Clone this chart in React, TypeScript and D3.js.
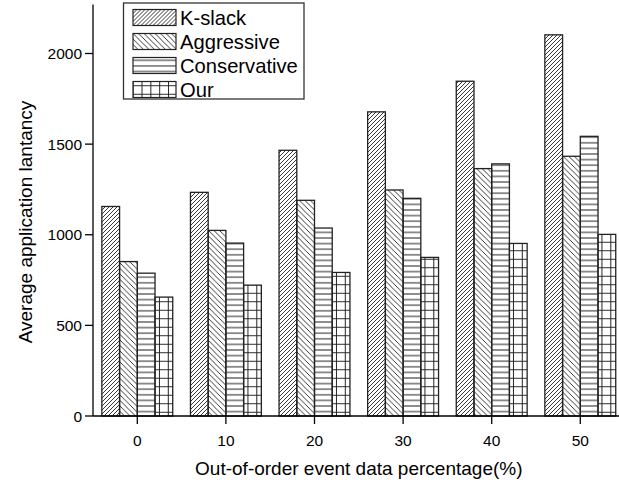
import React from "react"
import * as d3 from "d3"

// categories (x) and series
const categories = [0, 10, 20, 30, 40, 50]
const seriesNames = ["K-slack", "Aggressive", "Conservative", "Our"]
const kSlack = [1156, 1234, 1466, 1678, 1847, 2103]
const aggressive = [852, 1024, 1190, 1247, 1365, 1433]
const conservative = [788, 954, 1037, 1201, 1391, 1543]
const our = [656, 722, 792, 875, 952, 1002]
const yTicks = [0, 500, 1000, 1500, 2000]

const seriesValues = [kSlack, aggressive, conservative, our]
const patternIds = ["p-kslack", "p-aggr", "p-cons", "p-our"]

const W = 619
const H = 484
const FONT = "'Liberation Sans', Arial, sans-serif"

const App = () => {
  const x = d3.scaleLinear().domain([-5, 55]).range([93, 624.6])
  const y = d3.scaleLinear().domain([0, 2000]).range([416, 53.5])
  const barW = x(2) - x(0)
  const offsets = [-4, -2, 0, 2]

  return (
    <svg
      width={W}
      height={H}
      style={{ position: "absolute", left: 0, top: 0, background: "#fff" }}
      fontFamily={FONT}
    >
      <defs>
        <pattern id="p-kslack" patternUnits="userSpaceOnUse" width={4} height={4}>
          <path d="M-1,1 L1,-1 M0,4 L4,0 M3,5 L5,3" stroke="#222" strokeWidth={0.9} />
        </pattern>
        <pattern id="p-aggr" patternUnits="userSpaceOnUse" width={5.5} height={5.5}>
          <path d="M-1,-1 L6.5,6.5 M-1,4.5 L1,6.5 M4.5,-1 L6.5,1" stroke="#222" strokeWidth={0.9} />
        </pattern>
        <pattern id="p-cons" patternUnits="userSpaceOnUse" width={8} height={5.6}>
          <path d="M0,2.8 L8,2.8" stroke="#222" strokeWidth={1} />
        </pattern>
        <pattern id="p-our" patternUnits="userSpaceOnUse" x={x(2)} y={0} width={8.85} height={8.5}>
          <path d="M0,4.25 L8.85,4.25 M4.42,0 L4.42,8.5" stroke="#222" strokeWidth={1} />
        </pattern>
      </defs>

      {/* bars */}
      {seriesValues.map((vals, si) =>
        vals.map((v, ci) => (
          <rect
            key={`${si}-${ci}`}
            x={x(categories[ci] + offsets[si])}
            y={y(v)}
            width={barW}
            height={y(0) - y(v)}
            fill={`url(#${patternIds[si]})`}
            stroke="#222"
            strokeWidth={1.3}
          />
        )),
      )}

      {/* y axis */}
      <line x1={x(-5)} x2={x(-5)} y1={y(2270)} y2={y(0)} stroke="#000" strokeWidth={1.3} />
      {yTicks.map((t) => (
        <g key={t}>
          <line x1={x(-5) - 8} x2={x(-5)} y1={y(t)} y2={y(t)} stroke="#000" strokeWidth={1.3} />
          <text x={x(-5) - 11} y={y(t)} dy="0.36em" textAnchor="end" fontSize={15.5}>
            {t}
          </text>
        </g>
      ))}
      <text transform="translate(32,222) rotate(-90)" textAnchor="middle" fontSize={19}>
        Average application lantancy
      </text>

      {/* x axis */}
      <line x1={x(-5)} x2={x(55)} y1={y(0)} y2={y(0)} stroke="#000" strokeWidth={1.3} />
      {categories.map((c) => (
        <g key={c}>
          <line x1={x(c)} x2={x(c)} y1={y(0)} y2={y(0) + 8} stroke="#000" strokeWidth={1.3} />
          <text x={x(c)} y={y(0) + 30} textAnchor="middle" fontSize={15.5}>
            {c}
          </text>
        </g>
      ))}
      <text x={x(25)} y={475} textAnchor="middle" fontSize={19}>
        Out-of-order event data percentage(%)
      </text>

      {/* legend */}
      <rect x={123.5} y={3} width={180.5} height={96} fill="#fff" stroke="#333" strokeWidth={1.3} />
      {seriesNames.map((name, i) => (
        <g key={name} transform={`translate(133,${9.5 + i * 24})`}>
          <rect width={43} height={16} fill={`url(#${patternIds[i]})`} stroke="#222" strokeWidth={1.2} />
          <text x={47} y={8.5} dy="0.36em" fontSize={20.2}>
            {name}
          </text>
        </g>
      ))}
    </svg>
  )
}

export default App
